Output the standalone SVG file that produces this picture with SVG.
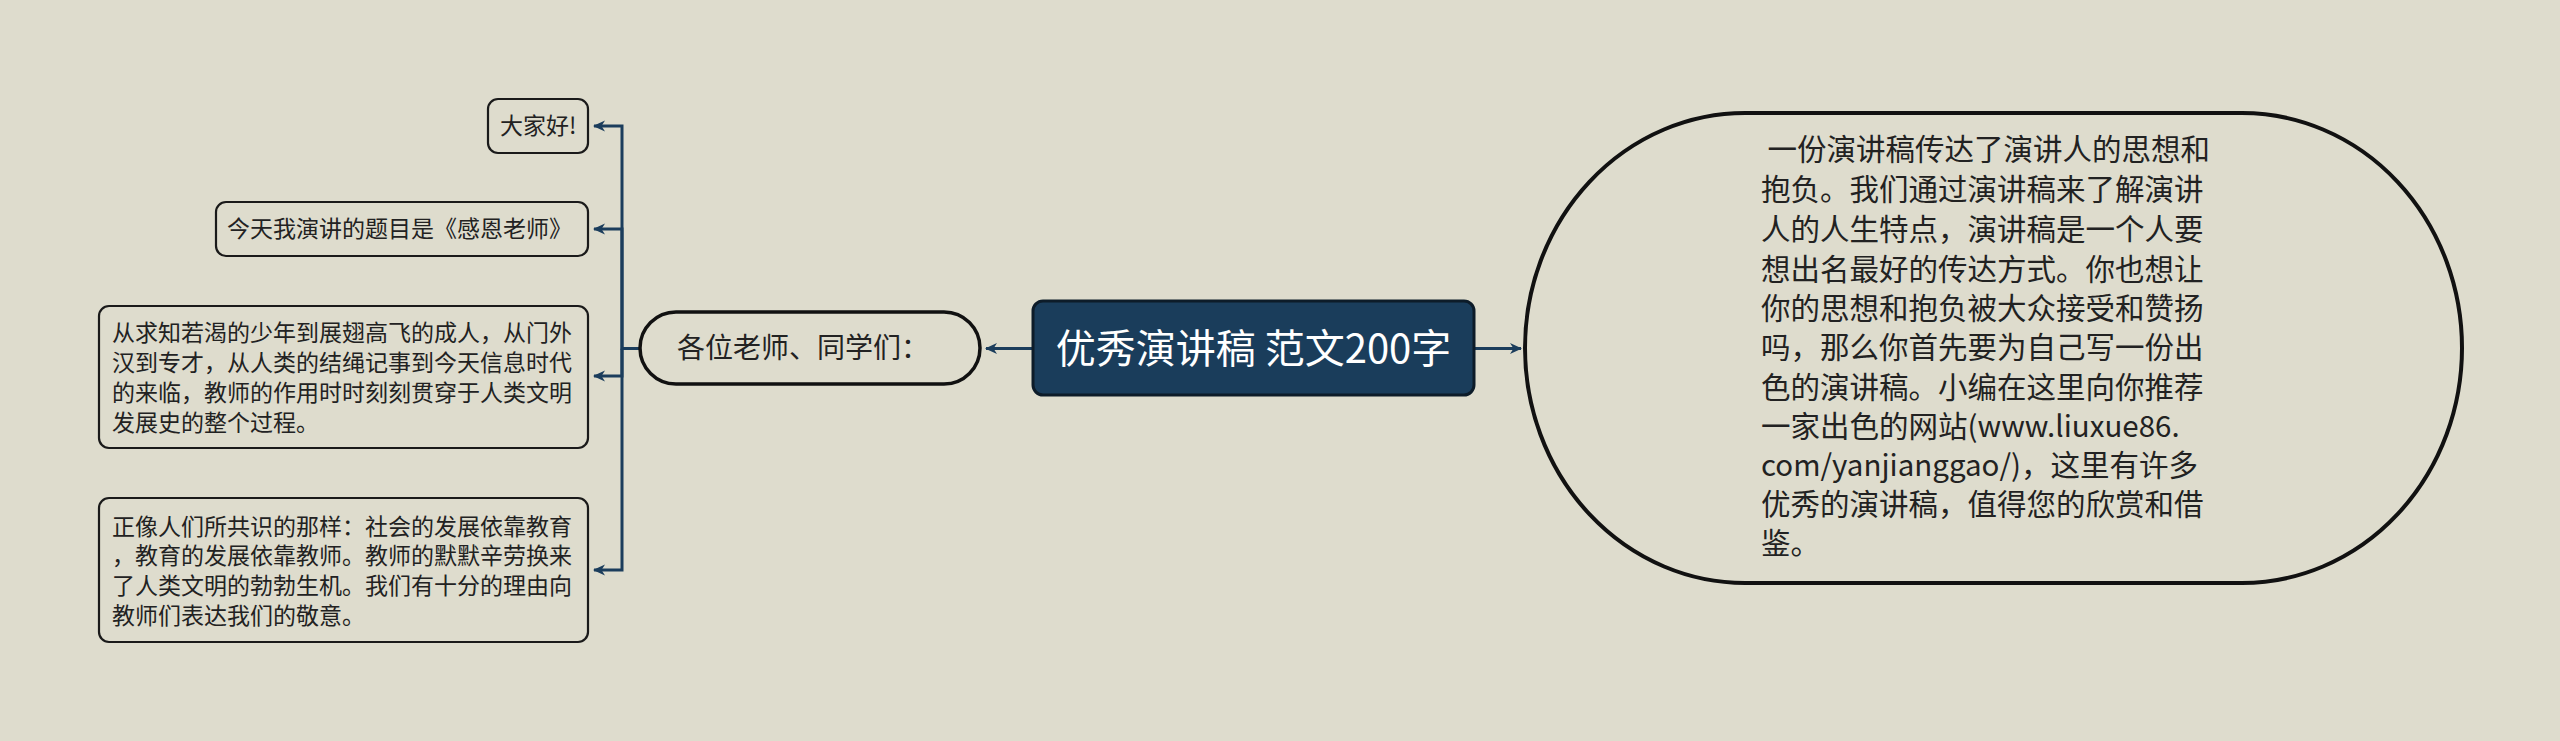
<svg xmlns="http://www.w3.org/2000/svg" width="2560" height="741" viewBox="0 0 2560 741">
<style>
.bg{fill:#dedccd}
.box{fill:#dedccd;stroke:#1a1a1a;stroke-width:2.2}
.t{font-family:"Noto Sans CJK SC","Noto Sans",sans-serif;fill:#222}
.s{font-size:23px}
.conn{fill:none;stroke:#1b3d5c;stroke-width:3}
</style>
<defs>
<marker id="arr" markerWidth="12" markerHeight="12" refX="11" refY="6" orient="auto" markerUnits="userSpaceOnUse">
<path d="M0,0.5 L12,6 L0,11.5 L3.5,6 Z" fill="#1b3d5c"/>
</marker>
</defs>
<rect class="bg" x="0" y="0" width="2560" height="741"/>
<g id="connectors">
<path class="conn" d="M1033,348.5 H986" marker-end="url(#arr)"/>
<path class="conn" d="M1474,348.5 H1521" marker-end="url(#arr)"/>
<path class="conn" d="M640,348.5 H622 V126 H594" marker-end="url(#arr)"/>
<path class="conn" d="M622,348.5 V229 H594" marker-end="url(#arr)"/>
<path class="conn" d="M622,348.5 V376 H594" marker-end="url(#arr)"/>
<path class="conn" d="M622,348.5 V570 H594" marker-end="url(#arr)"/>
</g>
<g id="main">
<rect x="1033" y="301" width="441" height="94" rx="10" fill="#1a3d5b" stroke="#0d1c29" stroke-width="3"/>
<text x="1253.5" y="363" text-anchor="middle" font-family="Noto Sans CJK SC, Noto Sans, sans-serif" font-size="40" fill="#ffffff">优秀演讲稿 范文200字</text>
</g>
<g id="greeting">
<rect x="640" y="312" width="340" height="72" rx="36" fill="#dedccd" stroke="#111" stroke-width="3.5"/>
<text class="t" x="677" y="358" font-size="28">各位老师、同学们：</text>
</g>
<g id="child1">
<rect class="box" x="488" y="99" width="100" height="54" rx="10"/>
<text class="t s" x="500" y="134">大家好!</text>
</g>
<g id="child2">
<rect class="box" x="216" y="202" width="372" height="54" rx="10"/>
<text class="t s" x="227" y="237">今天我演讲的题目是《感恩老师》</text>
</g>
<g id="child3">
<rect class="box" x="99" y="306" width="489" height="142" rx="10"/>
<text class="t s" x="112" y="341">从求知若渴的少年到展翅高飞的成人，从门外</text>
<text class="t s" x="112" y="371">汉到专才，从人类的结绳记事到今天信息时代</text>
<text class="t s" x="112" y="401">的来临，教师的作用时时刻刻贯穿于人类文明</text>
<text class="t s" x="112" y="431">发展史的整个过程。</text>
</g>
<g id="child4">
<rect class="box" x="99" y="498" width="489" height="144" rx="10"/>
<text class="t s" x="112" y="535">正像人们所共识的那样：社会的发展依靠教育</text>
<text class="t s" x="112" y="564">，教育的发展依靠教师。教师的默默辛劳换来</text>
<text class="t s" x="112" y="594">了人类文明的勃勃生机。我们有十分的理由向</text>
<text class="t s" x="112" y="624">教师们表达我们的敬意。</text>
</g>
<g id="summary">
<rect x="1525" y="113" width="937" height="470" rx="220" ry="235" fill="#dedccd" stroke="#111" stroke-width="4"/>
<text class="t" font-size="29.5" xml:space="preserve"><tspan x="1761" y="160"> 一份演讲稿传达了演讲人的思想和</tspan><tspan x="1761" y="200">抱负。我们通过演讲稿来了解演讲</tspan><tspan x="1761" y="240">人的人生特点，演讲稿是一个人要</tspan><tspan x="1761" y="280">想出名最好的传达方式。你也想让</tspan><tspan x="1761" y="319">你的思想和抱负被大众接受和赞扬</tspan><tspan x="1761" y="358">吗，那么你首先要为自己写一份出</tspan><tspan x="1761" y="398">色的演讲稿。小编在这里向你推荐</tspan><tspan x="1761" y="437">一家出色的网站(www.liuxue86.</tspan><tspan x="1761" y="476">com/yanjianggao/)，这里有许多</tspan><tspan x="1761" y="515">优秀的演讲稿，值得您的欣赏和借</tspan><tspan x="1761" y="554">鉴。</tspan></text>
</g>
</svg>
